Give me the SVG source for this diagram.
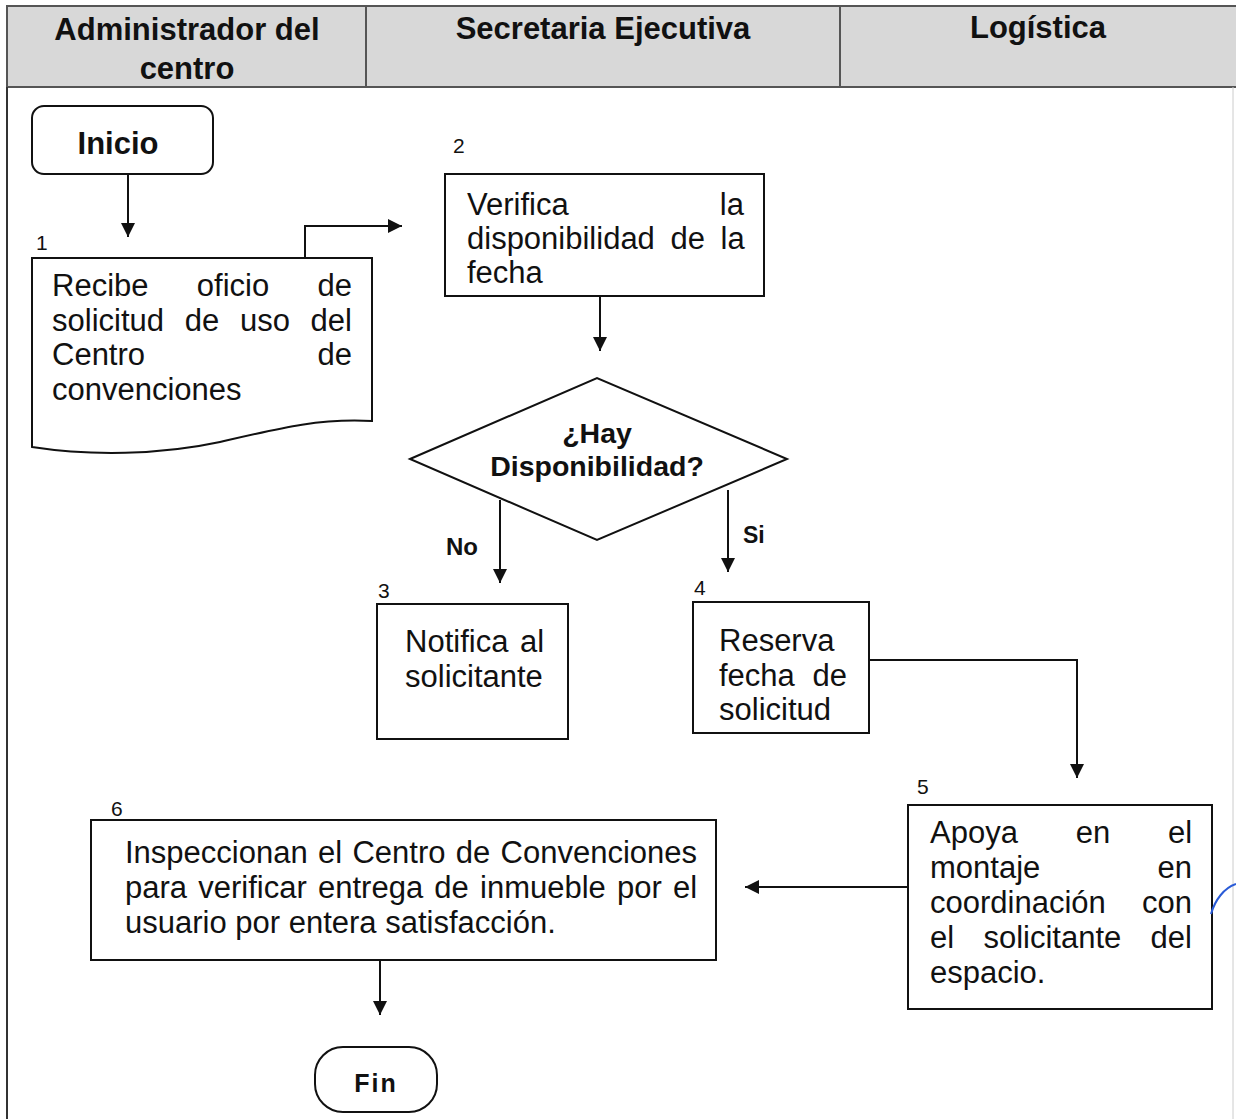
<svg xmlns="http://www.w3.org/2000/svg" width="1236" height="1119" viewBox="0 0 1236 1119">
<defs>
<marker id="ah" viewBox="0 0 10 10" refX="10" refY="5" markerWidth="14" markerHeight="14" markerUnits="userSpaceOnUse" orient="auto">
<path d="M0,0 L10,5 L0,10 Z" fill="#111"/>
</marker>
<style>
.hd{font-family:"Liberation Sans",Arial,sans-serif;font-weight:bold;font-size:31px;fill:#111;text-anchor:middle}
.t{font-family:"Liberation Sans",Arial,sans-serif;font-size:31px;fill:#111}
.e{text-anchor:end}
.b{font-family:"Liberation Sans",Arial,sans-serif;font-weight:bold;fill:#111}
.n{font-family:"Liberation Sans",Arial,sans-serif;font-size:21px;fill:#111}
.box{fill:#fff;stroke:#111;stroke-width:2}
.c{fill:none;stroke:#111;stroke-width:2;marker-end:url(#ah)}
</style>
</defs>
<rect width="1236" height="1119" fill="#fff"/>
<g id="header">
<rect x="7" y="6" width="1240" height="81" fill="#d8d8d8" stroke="#555" stroke-width="2"/>
<line x1="366" y1="6" x2="366" y2="87" stroke="#555" stroke-width="2"/>
<line x1="840" y1="6" x2="840" y2="87" stroke="#555" stroke-width="2"/>
<text class="hd" x="187" y="40">Administrador del</text>
<text class="hd" x="187" y="79">centro</text>
<text class="hd" x="603" y="39">Secretaria Ejecutiva</text>
<text class="hd" x="1038" y="38">Logística</text>
</g>
<g id="frame">
<line x1="7" y1="87" x2="7" y2="1119" stroke="#333" stroke-width="2"/>
<line x1="1233" y1="87" x2="1233" y2="1119" stroke="#ccc" stroke-width="1"/>
</g>
<g id="connectors">
<line class="c" x1="128" y1="175" x2="128" y2="237"/>
<path class="c" d="M305,258 V226 H402"/>
<line class="c" x1="600" y1="297" x2="600" y2="351"/>
<line class="c" x1="500" y1="500" x2="500" y2="583"/>
<line class="c" x1="728" y1="490" x2="728" y2="572"/>
<path class="c" d="M869,660 H1077 V778"/>
<line class="c" x1="908" y1="887" x2="745" y2="887"/>
<line class="c" x1="380" y1="960" x2="380" y2="1015"/>
<text class="b" x="446" y="555" font-size="24">No</text>
<text class="b" x="743" y="543" font-size="23">Si</text>
</g>
<g id="inicio">
<rect class="box" x="32" y="106" width="181" height="68" rx="12"/>
<text class="b" x="118" y="154" font-size="31" text-anchor="middle">Inicio</text>
</g>
<g id="n1">
<text class="n" x="36" y="250">1</text>
<path class="box" d="M32,258 H372 V421 C320,418 280,428 220,442 C160,455 90,456 32,447 Z"/>
<text class="t" x="52" y="296" word-spacing="39.7">Recibe oficio de</text>
<text class="t" x="52" y="331" word-spacing="12.1">solicitud de uso del</text>
<text class="t" x="52" y="365">Centro</text>
<text class="t e" x="352" y="365">de</text>
<text class="t" x="52" y="400">convenciones</text>
</g>
<g id="n2">
<text class="n" x="453" y="153">2</text>
<rect class="box" x="445" y="174" width="319" height="122"/>
<text class="t" x="467" y="215">Verifica</text>
<text class="t e" x="744" y="215">la</text>
<text class="t" x="467" y="249" word-spacing="7">disponibilidad de la</text>
<text class="t" x="467" y="283">fecha</text>
</g>
<g id="decision">
<polygon class="box" points="410,459 597,378 787,459 597,540"/>
<text class="b" x="597" y="443" font-size="28.5" text-anchor="middle">¿Hay</text>
<text class="b" x="597" y="476" font-size="28.5" text-anchor="middle">Disponibilidad?</text>
</g>
<g id="n3">
<text class="n" x="378" y="598">3</text>
<rect class="box" x="377" y="604" width="191" height="135"/>
<text class="t" x="405" y="652" word-spacing="3">Notifica al</text>
<text class="t" x="405" y="687">solicitante</text>
</g>
<g id="n4">
<text class="n" x="694" y="595">4</text>
<rect class="box" x="693" y="602" width="176" height="131"/>
<text class="t" x="719" y="651">Reserva</text>
<text class="t" x="719" y="686" word-spacing="9">fecha de</text>
<text class="t" x="719" y="720">solicitud</text>
</g>
<g id="n5">
<text class="n" x="917" y="794">5</text>
<rect class="box" x="908" y="805" width="304" height="204"/>
<text class="t" x="930" y="843" word-spacing="49.2">Apoya en el</text>
<text class="t" x="930" y="878">montaje</text>
<text class="t e" x="1192" y="878">en</text>
<text class="t" x="930" y="913">coordinación</text>
<text class="t e" x="1192" y="913">con</text>
<text class="t" x="930" y="948" word-spacing="20.7">el solicitante del</text>
<text class="t" x="930" y="983">espacio.</text>
</g>
<g id="n6">
<text class="n" x="111" y="816">6</text>
<rect class="box" x="91" y="820" width="625" height="140"/>
<text class="t" x="125" y="863" word-spacing="1.7">Inspeccionan el Centro de Convenciones</text>
<text class="t" x="125" y="898" word-spacing="2.6">para verificar entrega de inmueble por el</text>
<text class="t" x="125" y="933">usuario por entera satisfacción.</text>
</g>
<g id="fin">
<rect class="box" x="315" y="1047" width="122" height="65" rx="28"/>
<text class="b" x="376" y="1092" font-size="25" letter-spacing="2" text-anchor="middle">Fin</text>
</g>
<path d="M1211,914 C1215,900 1224,888 1236,884" fill="none" stroke="#2a5bd7" stroke-width="2"/>
</svg>
